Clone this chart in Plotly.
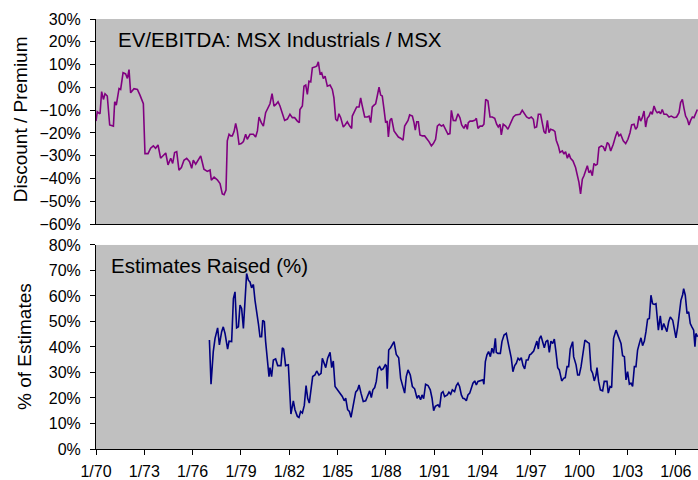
import plotly.graph_objects as go

# ---- Data: EV/EBITDA relative (MSX Industrials / MSX), % ----
ev_years = [1970.00, 1970.08, 1970.25, 1970.35, 1970.46, 1970.56, 1970.70, 1970.85, 1971.08, 1971.16,
            1971.26, 1971.43, 1971.53, 1971.68, 1971.84, 1971.95, 1972.05, 1972.15, 1972.36, 1972.57,
            1972.73, 1972.94, 1973.04, 1973.23, 1973.39, 1973.56, 1973.70, 1973.85, 1974.01, 1974.22,
            1974.33, 1974.47, 1974.64, 1974.76, 1974.88, 1975.01, 1975.15, 1975.30, 1975.46, 1975.63,
            1975.81, 1975.94, 1976.04, 1976.19, 1976.33, 1976.50, 1976.60, 1976.70, 1976.91, 1977.08,
            1977.16, 1977.33, 1977.53, 1977.70, 1977.84, 1977.95, 1978.07, 1978.15, 1978.26, 1978.36,
            1978.46, 1978.57, 1978.67, 1978.77, 1978.88, 1979.02, 1979.15, 1979.29, 1979.39, 1979.56,
            1979.77, 1979.91, 1980.02, 1980.12, 1980.26, 1980.39, 1980.53, 1980.68, 1980.80, 1980.93,
            1981.05, 1981.17, 1981.30, 1981.42, 1981.57, 1981.71, 1981.88, 1982.04, 1982.19, 1982.33,
            1982.50, 1982.62, 1982.66, 1982.81, 1982.91, 1983.02, 1983.12, 1983.22, 1983.33, 1983.43,
            1983.57, 1983.70, 1983.80, 1983.91, 1984.01, 1984.11, 1984.22, 1984.36, 1984.53, 1984.67,
            1984.77, 1984.88, 1984.98, 1985.08, 1985.19, 1985.35, 1985.46, 1985.60, 1985.75, 1985.87,
            1985.91, 1986.06, 1986.18, 1986.33, 1986.43, 1986.53, 1986.68, 1986.84, 1986.95, 1987.05,
            1987.15, 1987.26, 1987.36, 1987.46, 1987.57, 1987.67, 1987.77, 1987.88, 1987.98, 1988.08,
            1988.15, 1988.25, 1988.35, 1988.50, 1988.64, 1988.77, 1988.91, 1989.06, 1989.16, 1989.26,
            1989.37, 1989.47, 1989.64, 1989.74, 1989.82, 1989.91, 1990.01, 1990.11, 1990.26, 1990.40,
            1990.53, 1990.67, 1990.82, 1990.94, 1991.08, 1991.19, 1991.31, 1991.44, 1991.56, 1991.71,
            1991.85, 1991.97, 1992.06, 1992.18, 1992.33, 1992.47, 1992.59, 1992.70, 1992.84, 1992.95,
            1993.05, 1993.11, 1993.22, 1993.36, 1993.51, 1993.61, 1993.71, 1993.84, 1993.98, 1994.08,
            1994.19, 1994.33, 1994.46, 1994.60, 1994.75, 1994.87, 1994.97, 1995.08, 1995.16, 1995.28,
            1995.43, 1995.57, 1995.70, 1995.78, 1995.91, 1996.05, 1996.20, 1996.32, 1996.46, 1996.61,
            1996.73, 1996.88, 1997.02, 1997.15, 1997.23, 1997.35, 1997.46, 1997.60, 1997.71, 1997.81,
            1997.91, 1998.02, 1998.12, 1998.22, 1998.39, 1998.49, 1998.57, 1998.70, 1998.80, 1998.95,
            1999.05, 1999.15, 1999.26, 1999.36, 1999.46, 1999.61, 1999.77, 1999.88, 1999.98, 2000.08,
            2000.19, 2000.29, 2000.40, 2000.50, 2000.60, 2000.71, 2000.81, 2000.91, 2001.02, 2001.12,
            2001.22, 2001.37, 2001.49, 2001.60, 2001.74, 2001.84, 2001.95, 2002.11, 2002.26, 2002.36,
            2002.46, 2002.57, 2002.73, 2002.88, 2003.02, 2003.15, 2003.25, 2003.40, 2003.50, 2003.60,
            2003.71, 2003.81, 2003.91, 2004.02, 2004.12, 2004.22, 2004.33, 2004.43, 2004.53, 2004.64,
            2004.74, 2004.84, 2004.95, 2005.05, 2005.15, 2005.26, 2005.42, 2005.57, 2005.71, 2005.88,
            2006.04, 2006.19, 2006.29, 2006.40, 2006.50, 2006.60, 2006.71, 2006.81, 2006.91, 2007.02,
            2007.12, 2007.22, 2007.33]
ev_values = [-14.8, -10.7, -11.6, -1.9, -5.3, -2.8, -3.8, -16.5, -17.0, -6.3,
             -7.8, -0.5, -0.9, 6.4, 5.9, 3.9, 7.8, -2.4, -0.6, -0.9,
             -3.4, -7.2, -29.1, -29.1, -26.7, -25.7, -26.7, -25.3, -31.1, -29.3,
             -28.8, -34.0, -31.1, -33.4, -28.6, -28.2, -36.3, -35.2, -32.0, -31.1,
             -32.6, -35.5, -32.0, -33.7, -32.0, -30.1, -33.0, -35.9, -36.9, -36.3,
             -40.7, -39.4, -40.6, -42.2, -46.8, -47.1, -45.1, -23.5, -20.6, -21.3,
             -21.3, -19.4, -15.8, -19.1, -25.0, -24.7, -23.8, -20.6, -22.8, -20.6,
             -20.6, -21.8, -19.1, -13.0, -15.5, -17.0, -11.1, -8.9, -7.2, -2.8,
             -8.2, -7.5, -6.3, -8.2, -11.8, -14.5, -13.9, -11.8, -13.3, -13.3,
             -14.8, -15.5, -9.7, -8.2, 0.5, 1.0, -3.1, 2.7, 2.4, 8.6,
             8.9, 9.3, 11.2, 5.9, 6.4, 3.9, 4.9, 0.5, 1.0, -0.9,
             -4.6, -14.0, -14.8, -11.6, -13.3, -17.4, -16.5, -15.1, -17.0, -18.0,
             -12.6, -10.4, -8.6, -8.6, -4.6, -8.2, -13.0, -13.0, -12.6, -15.5,
             -8.6, -7.8, -7.2, -3.8, 0.1, -3.4, -3.8, -9.7, -15.5, -14.8,
             -21.8, -14.5, -13.6, -19.1, -20.3, -21.8, -22.3, -23.2, -17.0, -15.9,
             -14.5, -12.1, -12.6, -15.5, -18.8, -15.1, -15.1, -20.9, -21.3, -21.3,
             -22.3, -23.8, -25.7, -24.7, -22.8, -17.0, -16.2, -17.0, -16.5, -18.8,
             -20.6, -20.3, -10.1, -14.5, -14.6, -11.6, -13.3, -16.5, -18.0, -16.2,
             -18.4, -15.5, -14.8, -14.8, -14.5, -13.6, -18.0, -17.0, -17.0, -16.2,
             -5.3, -6.0, -13.0, -13.0, -13.6, -16.2, -17.4, -16.2, -20.9, -16.2,
             -17.0, -18.4, -16.2, -15.5, -13.0, -12.1, -11.8, -11.8, -10.1, -11.6,
             -13.0, -13.6, -13.0, -14.0, -17.7, -17.4, -11.8, -11.8, -15.5, -19.4,
             -20.3, -14.5, -19.9, -18.4, -18.8, -19.4, -23.2, -25.7, -28.6, -27.9,
             -29.3, -28.2, -31.1, -29.1, -31.1, -32.3, -35.2, -38.8, -41.7, -46.8,
             -40.3, -38.8, -35.9, -34.4, -37.4, -36.6, -38.8, -33.4, -34.2, -33.7,
             -26.4, -25.7, -26.1, -27.9, -24.2, -25.0, -27.9, -25.0, -21.3, -19.4,
             -21.3, -20.6, -23.5, -24.7, -22.8, -19.9, -16.5, -16.2, -18.4, -17.4,
             -12.6, -14.8, -13.3, -10.4, -17.4, -13.6, -12.6, -10.7, -11.8, -8.2,
             -10.1, -11.1, -10.7, -11.6, -9.7, -11.8, -11.8, -13.0, -12.6, -13.3,
             -13.0, -11.1, -6.7, -5.3, -9.2, -12.6, -14.0, -16.5, -14.5, -13.0,
             -13.3, -11.6, -9.7]

# ---- Data: Estimates Raised (% of estimates) ----
est_years = [1977.04, 1977.14, 1977.28, 1977.39, 1977.55, 1977.66, 1977.80, 1977.90, 1978.01, 1978.11,
             1978.17, 1978.26, 1978.42, 1978.53, 1978.63, 1978.73, 1978.84, 1978.94, 1979.04, 1979.15,
             1979.25, 1979.35, 1979.46, 1979.56, 1979.66, 1979.77, 1979.87, 1979.97, 1980.08, 1980.18,
             1980.28, 1980.35, 1980.45, 1980.53, 1980.64, 1980.74, 1980.80, 1980.90, 1981.01, 1981.15,
             1981.28, 1981.48, 1981.57, 1981.65, 1981.77, 1981.94, 1982.10, 1982.25, 1982.35, 1982.50,
             1982.60, 1982.70, 1982.81, 1982.93, 1983.04, 1983.14, 1983.24, 1983.35, 1983.45, 1983.59,
             1983.70, 1983.84, 1983.97, 1984.05, 1984.17, 1984.26, 1984.38, 1984.53, 1984.63, 1984.73,
             1984.84, 1984.98, 1985.15, 1985.29, 1985.41, 1985.50, 1985.62, 1985.73, 1985.83, 1985.97,
             1986.12, 1986.24, 1986.33, 1986.45, 1986.59, 1986.74, 1986.86, 1986.99, 1987.09, 1987.19,
             1987.30, 1987.40, 1987.50, 1987.61, 1987.71, 1987.82, 1987.96, 1988.02, 1988.08, 1988.17,
             1988.29, 1988.37, 1988.50, 1988.64, 1988.79, 1988.91, 1989.02, 1989.16, 1989.26, 1989.37,
             1989.51, 1989.64, 1989.78, 1989.93, 1990.03, 1990.15, 1990.24, 1990.34, 1990.46, 1990.61,
             1990.75, 1990.86, 1990.96, 1991.06, 1991.23, 1991.33, 1991.44, 1991.54, 1991.64, 1991.81,
             1991.91, 1992.02, 1992.12, 1992.26, 1992.37, 1992.47, 1992.57, 1992.68, 1992.78, 1992.88,
             1992.99, 1993.09, 1993.20, 1993.30, 1993.40, 1993.51, 1993.61, 1993.71, 1993.86, 1994.02,
             1994.08, 1994.17, 1994.27, 1994.37, 1994.48, 1994.58, 1994.68, 1994.79, 1994.85, 1994.95,
             1995.10, 1995.20, 1995.33, 1995.47, 1995.57, 1995.68, 1995.78, 1995.88, 1995.99, 1996.09,
             1996.20, 1996.30, 1996.40, 1996.51, 1996.61, 1996.71, 1996.82, 1996.92, 1997.00, 1997.17,
             1997.27, 1997.37, 1997.46, 1997.52, 1997.62, 1997.73, 1997.83, 1997.93, 1998.04, 1998.14,
             1998.24, 1998.35, 1998.45, 1998.55, 1998.66, 1998.76, 1998.91, 1999.03, 1999.13, 1999.24,
             1999.34, 1999.44, 1999.59, 1999.65, 1999.80, 1999.90, 2000.00, 2000.11, 2000.21, 2000.35,
             2000.52, 2000.62, 2000.73, 2000.83, 2000.93, 2001.04, 2001.10, 2001.20, 2001.31, 2001.45,
             2001.55, 2001.72, 2001.80, 2001.91, 2002.01, 2002.13, 2002.28, 2002.38, 2002.49, 2002.59,
             2002.69, 2002.80, 2002.90, 2003.00, 2003.11, 2003.21, 2003.31, 2003.42, 2003.52, 2003.62,
             2003.73, 2003.83, 2003.93, 2004.04, 2004.14, 2004.24, 2004.35, 2004.45, 2004.55, 2004.66,
             2004.76, 2004.86, 2004.91, 2005.03, 2005.13, 2005.24, 2005.34, 2005.44, 2005.55, 2005.65,
             2005.80, 2005.90, 2006.00, 2006.11, 2006.21, 2006.31, 2006.42, 2006.48, 2006.58, 2006.69,
             2006.79, 2006.89, 2006.99, 2007.10, 2007.18, 2007.24, 2007.35]
est_values = [42.7, 25.4, 38.2, 43.4, 47.5, 40.8, 46.0, 47.9, 45.3, 42.1,
              39.2, 42.3, 42.1, 59.0, 61.6, 47.5, 47.9, 56.4, 55.1, 47.3,
              57.0, 68.8, 66.2, 65.5, 63.2, 64.5, 58.3, 54.4, 49.2, 44.0,
              44.0, 50.5, 49.9, 42.1, 35.6, 28.4, 31.9, 28.4, 34.9, 35.3,
              32.7, 32.7, 39.7, 39.2, 32.7, 33.0, 13.7, 18.9, 15.4, 12.8,
              12.4, 14.7, 14.1, 17.1, 24.9, 19.9, 18.0, 24.1, 28.4, 29.0,
              30.6, 29.0, 29.7, 35.6, 33.6, 31.9, 35.6, 37.9, 31.9, 34.5,
              24.5, 23.2, 21.5, 20.6, 18.9, 19.9, 15.4, 14.7, 12.4, 17.3,
              22.3, 23.2, 25.1, 21.9, 18.6, 18.9, 20.6, 22.8, 20.2, 23.2,
              24.1, 26.5, 31.6, 32.3, 31.0, 31.4, 33.0, 32.7, 23.6, 38.8,
              39.7, 40.5, 42.1, 37.1, 35.8, 27.7, 25.4, 21.9, 28.4, 31.0,
              29.0, 24.5, 23.6, 19.9, 21.0, 19.3, 21.2, 19.7, 25.4, 24.9,
              23.2, 19.9, 15.0, 16.7, 17.3, 16.3, 21.9, 22.5, 20.6, 21.2,
              22.3, 21.5, 23.2, 22.5, 24.9, 25.8, 24.5, 21.2, 19.9, 19.7,
              18.9, 21.2, 21.9, 24.1, 25.8, 26.7, 25.1, 26.5, 26.7, 27.1,
              25.4, 34.3, 36.9, 38.2, 36.2, 39.5, 37.5, 43.4, 37.9, 37.5,
              37.5, 42.1, 44.7, 45.3, 42.1, 38.2, 35.6, 30.3, 32.7, 33.6,
              35.6, 34.9, 35.8, 32.7, 31.4, 34.9, 34.9, 36.9, 37.2, 38.4,
              40.1, 42.3, 39.2, 43.1, 44.4, 41.4, 39.7, 42.1, 42.7, 37.9,
              42.3, 41.4, 43.1, 38.2, 31.9, 31.0, 26.7, 27.7, 28.0, 32.3,
              32.3, 39.2, 42.1, 36.2, 33.0, 29.0, 29.0, 32.3, 37.1, 42.7,
              41.8, 41.4, 31.0, 29.7, 26.7, 29.0, 31.9, 26.5, 23.2, 22.8,
              26.5, 26.5, 21.9, 24.5, 24.1, 43.4, 46.6, 44.9, 43.4, 41.4,
              36.6, 36.2, 27.1, 30.3, 25.4, 25.8, 24.5, 32.3, 32.3, 38.8,
              41.4, 43.6, 40.5, 42.3, 46.0, 50.9, 51.2, 60.3, 57.0, 56.7,
              57.0, 50.5, 46.6, 52.2, 46.6, 49.2, 47.9, 46.0, 49.9, 51.8,
              50.5, 47.3, 43.6, 47.9, 53.1, 58.3, 60.6, 62.9, 60.3, 53.1,
              53.8, 49.2, 47.9, 46.6, 40.1, 45.3, 44.0]

tick_years = [1970, 1973, 1976, 1979, 1982, 1985, 1988, 1991, 1994, 1997, 2000, 2003, 2006]
tick_labels = ["1/70", "1/73", "1/76", "1/79", "1/82", "1/85", "1/88", "1/91", "1/94", "1/97",
               "1/00", "1/03", "1/06"]

FONT = "Liberation Sans, Arial, sans-serif"
X_RANGE = [1970, 2007.37]

fig = go.Figure()
fig.add_trace(go.Scatter(x=ev_years, y=ev_values, mode="lines", xaxis="x", yaxis="y",
                         line=dict(color="#800080", width=1.6), showlegend=False, hoverinfo="skip"))
fig.add_trace(go.Scatter(x=est_years, y=est_values, mode="lines", xaxis="x2", yaxis="y2",
                         line=dict(color="#000080", width=1.6), showlegend=False, hoverinfo="skip"))

axis_common = dict(showgrid=False, zeroline=False, showline=True, linecolor="black", linewidth=1,
                   tickfont=dict(family=FONT, size=16, color="black"))

fig.update_layout(
    width=698, height=480,
    margin=dict(l=96, r=0, t=19, b=29),
    paper_bgcolor="white", plot_bgcolor="#C0C0C0",
    font=dict(family=FONT, color="black"),
    xaxis=dict(domain=[0, 1], anchor="y", range=X_RANGE, showticklabels=False, ticks="",
               **axis_common),
    yaxis=dict(domain=[0.5231, 1], anchor="x", range=[-60, 30], dtick=10, ticksuffix="%",
               ticks="outside", ticklen=5, tickcolor="black", ticklabelstandoff=6, **axis_common),
    xaxis2=dict(domain=[0, 1], anchor="y2", range=X_RANGE, tickmode="array", tickvals=tick_years,
                ticktext=tick_labels, ticks="outside", ticklen=5, tickcolor="black",
                ticklabelstandoff=3, **axis_common),
    yaxis2=dict(domain=[0, 0.4745], anchor="x2", range=[0, 80], dtick=10, ticksuffix="%",
                ticks="outside", ticklen=5, tickcolor="black", ticklabelstandoff=6, **axis_common),
    annotations=[
        dict(text="EV/EBITDA: MSX Industrials / MSX", xref="paper", yref="y", x=0.0332, y=20.8,
             xanchor="left", yanchor="middle", showarrow=False, font=dict(family=FONT, size=20.5)),
        dict(text="Estimates Raised (%)", xref="paper", yref="y2", x=0.0216, y=71.8,
             xanchor="left", yanchor="middle", showarrow=False, font=dict(family=FONT, size=20.5)),
        dict(text="Discount / Premium", xref="paper", yref="y", x=0, xshift=-76, y=-14,
             xanchor="center", yanchor="middle", textangle=-90, showarrow=False,
             font=dict(family=FONT, size=19)),
        dict(text="% of Estimates", xref="paper", yref="y2", x=0, xshift=-71, y=40,
             xanchor="center", yanchor="middle", textangle=-90, showarrow=False,
             font=dict(family=FONT, size=19)),
    ],
)

fig.write_html("out.html")
